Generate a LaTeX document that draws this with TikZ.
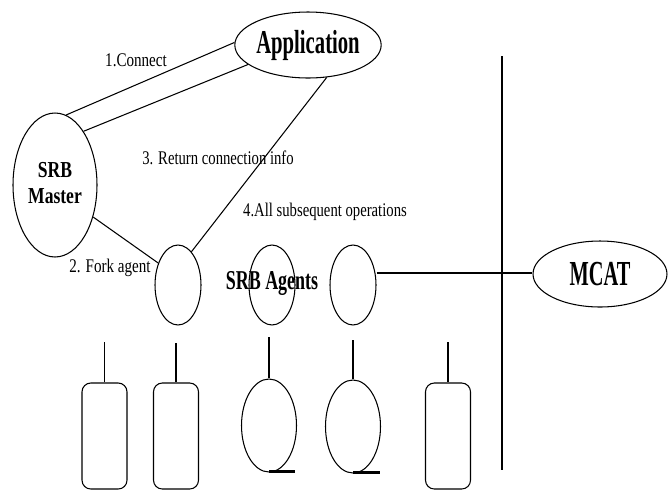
\documentclass[tikz,border=0pt]{standalone}
\usepackage{fontspec}
\setmainfont{Liberation Serif}
\usepackage{graphicx}
\usetikzlibrary{positioning,shapes.geometric}
\newcommand{\narrowtext}[2]{\scalebox{#1}[1]{#2}}
\tikzset{
  entity/.style={draw, ellipse, inner sep=0pt, line width=0.6pt},
  agent/.style={entity, minimum width=0.92cm, minimum height=1.6cm},
  loop/.style={entity, minimum width=1.1cm, minimum height=1.86cm},
  process/.style={draw, rectangle, rounded corners=5pt, inner sep=0pt, line width=0.6pt, minimum width=0.9cm, minimum height=2.12cm},
  step label/.style={inner sep=0pt, font=\fontsize{11}{13}\selectfont},
  link/.style={line width=0.6pt},
  stem/.style={line width=0.8pt},
  bus/.style={line width=1.2pt},
}

\begin{document}
\begin{tikzpicture}[x=0.02cm, y=-0.02cm]
\useasboundingbox (0,0) rectangle (669,491);
% the nodes
\node [entity, minimum width=2.88cm, minimum height=1.32cm] (app) at (308,45)
  {\narrowtext{0.62}{\fontsize{19}{21}\selectfont\bfseries Application}};
\node [entity, minimum width=1.68cm, minimum height=2.88cm] (master) at (55,185)
  {\narrowtext{0.77}{\fontsize{13}{15}\selectfont\bfseries\begin{tabular}{@{}c@{}}SRB\\Master\end{tabular}}};
\node [agent] (agentA) at (178,285) {};
\node [agent] (agentB) at (272,285) {};
\node [agent] (agentC) at (353,285) {};
\node [entity, minimum width=2.68cm, minimum height=1.32cm] (mcat) at (600,274)
  {\narrowtext{0.58}{\fontsize{20}{22}\selectfont\bfseries MCAT}};
\node [inner sep=0pt] (agentlabel) at (272,283)
  {\narrowtext{0.66}{\fontsize{15.5}{17}\selectfont\bfseries SRB Agents}};

\node [process] (procA) at (104.5,436) {};
\node [process] (procB) at (176,436) {};
\node [loop] (loopA) at (269,425.5) {};
\node [loop] (loopB) at (353,426.5) {};
\node [process] (procE) at (448,436) {};

% the labels
\node [step label] (connect) at (136,60) {\narrowtext{0.78}{1.Connect}};
\node [step label] (retinfo) at (218,158) {\narrowtext{0.76}{3. Return connection info}};
\node [step label] (subops) at (325,212) {\narrowtext{0.76}{4.All subsequent operations}};
\node [step label] (fork) at (110,268) {\narrowtext{0.78}{2. Fork agent}};

% the bus and its ends
\coordinate (busTop) at (502,56);
\coordinate (busBottom) at (502,470);
\coordinate (busCross) at (502,273);

\coordinate (stemA) at (104.5,342);
\coordinate (stemB) at (176,343);
\coordinate (stemC) at (269,337);
\coordinate (stemD) at (353,340);
\coordinate (stemE) at (448,342);
\coordinate (tailA) at (295,470);
\coordinate (tailB) at (380,470);

%drawings of vectors
\draw[link] (master.81) -- (app.178);
\draw[link] (master.62) -- (app.198);
\draw[link] (app.300) -- (agentA.68);
\draw[link] (master.320) -- (agentA.132);

\draw[bus] (busTop) -- (busBottom);
\draw[line width=1pt] (agentC.east |- busCross) -- (mcat.west |- busCross);

\draw[stem] (stemA) -- (procA.north);
\draw[line width=1.3pt] (stemB) -- (procB.north);
\draw[stem] (stemC) -- (loopA.north);
\draw[stem] (stemD) -- (loopB.north);
\draw[stem] (stemE) -- (procE.north);

\draw[line width=1.2pt] ([yshift=0.02cm]loopA.south) -- ([yshift=0.02cm]loopA.south -| tailA);
\draw[line width=1.2pt] ([yshift=0.02cm]loopB.south) -- ([yshift=0.02cm]loopB.south -| tailB);

\end{tikzpicture}
\end{document}
